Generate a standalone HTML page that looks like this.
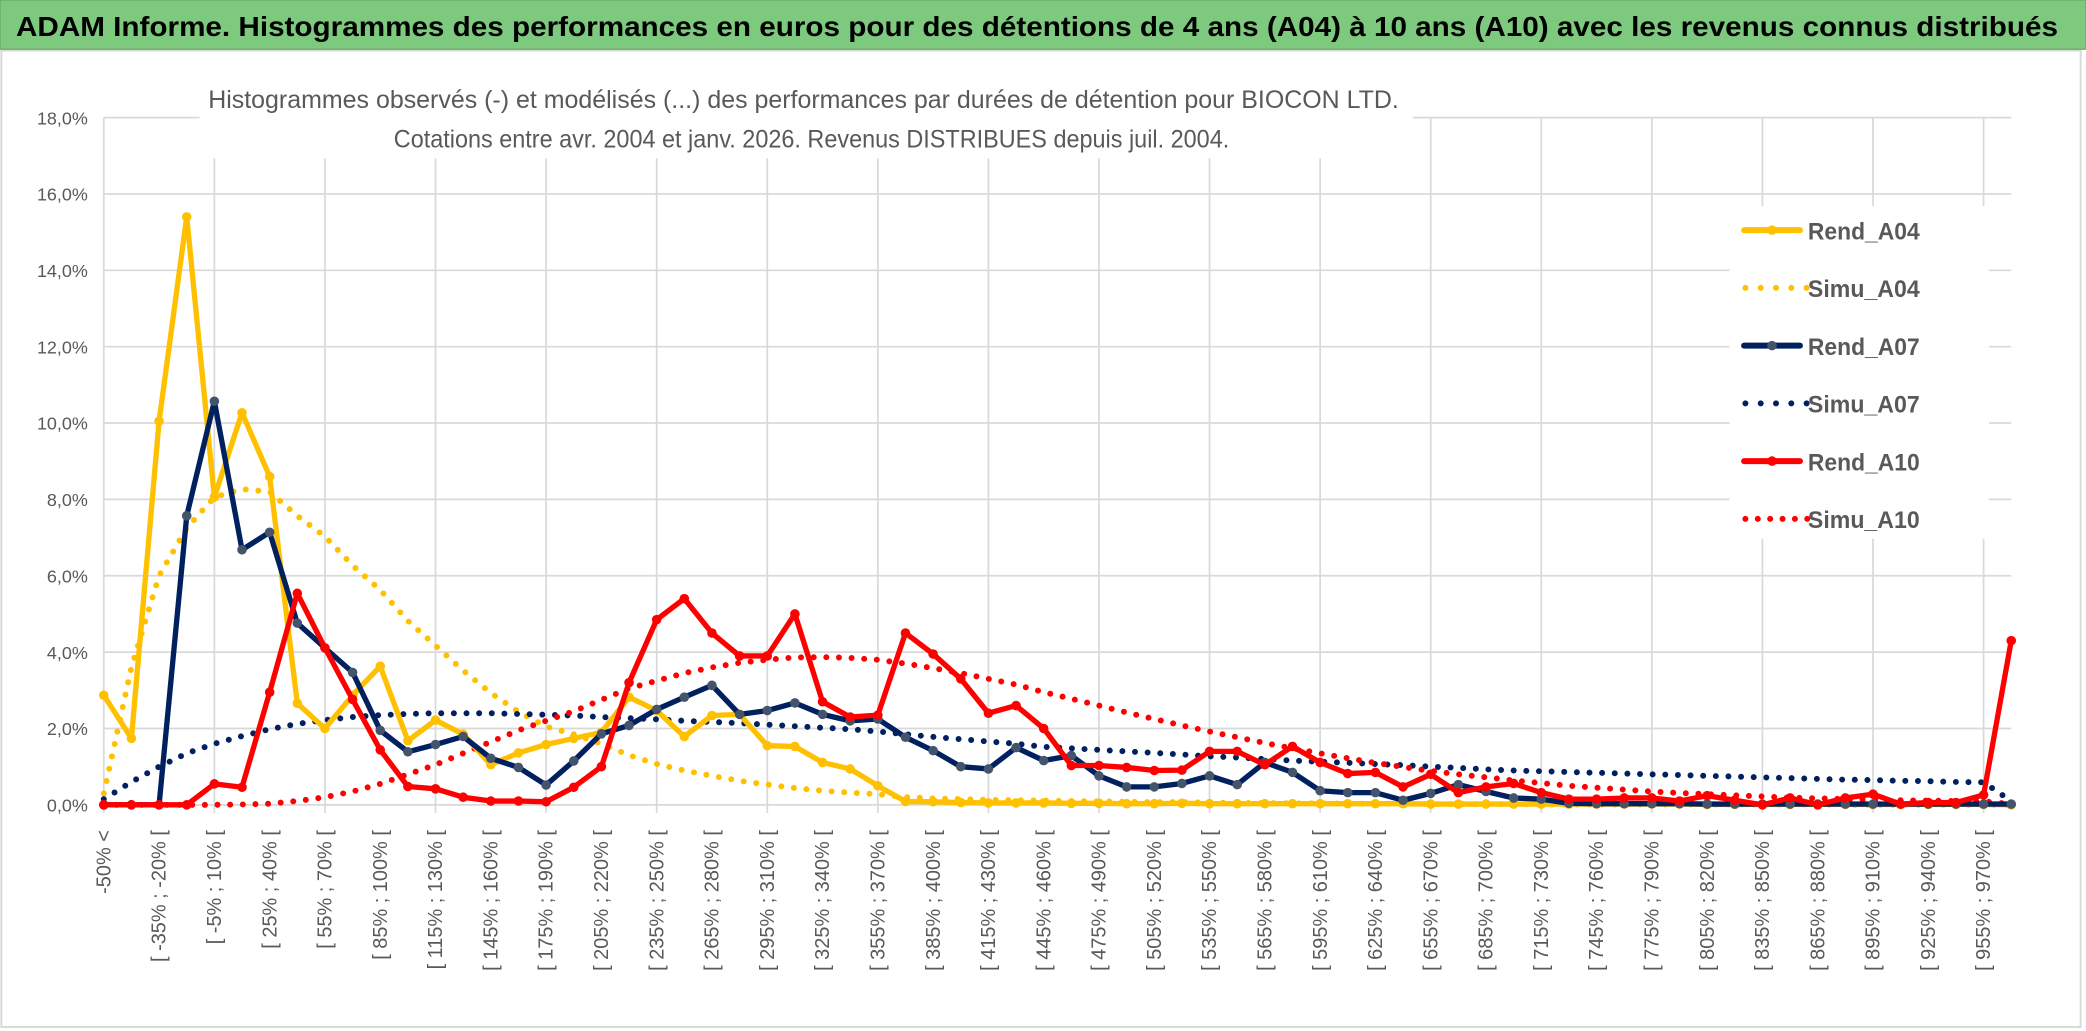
<!DOCTYPE html>
<html><head><meta charset="utf-8">
<style>
html,body{margin:0;padding:0;background:#fff;}
svg{display:block;font-family:"Liberation Sans",sans-serif;}
</style></head>
<body>
<svg id="chart" width="2086" height="1031" viewBox="0 0 1568 775" xmlns="http://www.w3.org/2000/svg">
<rect x="0" y="0" width="1568" height="775" fill="#fff"/>
<rect x="1" y="38" width="1563" height="734" fill="#fff" stroke="#d9d9d9" stroke-width="1.5"/>
<rect x="0" y="0" width="1568" height="37" fill="#7dc97d" stroke="#6aaa6a" stroke-width="1"/>
<text x="12" y="27" font-size="21" font-weight="bold" fill="#000" textLength="1535" lengthAdjust="spacingAndGlyphs">ADAM Informe. Histogrammes des performances en euros pour des détentions de 4 ans (A04) à 10 ans (A10) avec les revenus connus distribués</text>
<g id="grid"></g>
<g id="ylabels"></g>
<g id="xlabels"></g>
<rect x="150" y="55" width="912" height="64" fill="#fff"/>
<text x="604" y="81" text-anchor="middle" font-size="18.5" fill="#595959" textLength="895" lengthAdjust="spacingAndGlyphs">Histogrammes observés (-) et modélisés (...) des performances par durées de détention pour BIOCON LTD.</text>
<text x="610" y="111" text-anchor="middle" font-size="18.5" fill="#595959" textLength="628" lengthAdjust="spacingAndGlyphs">Cotations entre avr. 2004 et janv. 2026. Revenus DISTRIBUES depuis juil. 2004.</text>
<g id="series"></g>
<rect x="1300" y="155" width="195" height="250" fill="#fff"/>
<g id="legend"></g>
</svg>
<script>
const categories = (function(){ const c=["-50% <"]; for(let s=-50;s<=955;s+=15){c.push("[ "+s+"% ; "+(s+15)+"% [");} c.push("> 970%"); return c; })();
const yTicks = [0,2,4,6,8,10,12,14,16,18];
const yTickLabels = ["0,0%","2,0%","4,0%","6,0%","8,0%","10,0%","12,0%","14,0%","16,0%","18,0%"];
const rendA04 = [2.87,1.74,10.05,15.4,8.06,10.27,8.6,2.66,2.0,2.87,3.63,1.68,2.22,1.85,1.05,1.36,1.58,1.74,
1.9,2.82,2.47,1.79,2.34,2.37,1.55,1.53,1.11,0.94,0.5,0.09,
0.08,0.06,0.05,0.05,0.05,0.04,0.04,0.03,0.03,0.04,0.03,0.03,0.03,0.03,0.03,0.03,0.03,0.03,0.02,0.02,
0.02,0.02,0.02,0.02,0.02,0.02,0.02,0.02,0.01,0.01,0.01,0.01,0.01,0.01,0.01,0.01,0.01,0.01,0.01,0.0];
const rendA07 = [0,0,0,7.57,10.57,6.68,7.14,4.76,4.11,3.47,1.95,1.39,1.58,1.79,1.22,0.98,0.52,1.15,
1.86,2.08,2.5,2.82,3.13,2.37,2.47,2.67,2.37,2.2,2.25,1.77,1.42,1.0,0.94,1.5,1.16,
1.29,0.76,0.47,0.47,0.56,0.76,0.53,1.11,0.85,0.37,0.32,0.32,0.12,0.3,0.53,0.35,0.18,0.15,
0.04,0.03,0.03,0.03,0.03,0.02,0.02,0.02,0.02,0.02,0.02,0.02,0.02,0.02,0.02,0.02,0.02];
const rendA10 = [0,0,0,0,0.55,0.46,2.95,5.54,4.11,2.76,1.44,0.48,0.42,0.2,0.1,0.1,0.08,0.46,
1.0,3.2,4.85,5.4,4.5,3.9,3.9,5.0,2.7,2.3,2.35,4.5,3.95,3.3,2.4,2.6,2.0,
1.03,1.03,0.98,0.9,0.91,1.4,1.4,1.05,1.53,1.11,0.82,0.85,0.47,0.8,0.32,0.47,0.56,0.32,
0.15,0.15,0.18,0.18,0.1,0.24,0.12,0.0,0.18,0.0,0.18,0.28,0.02,0.06,0.06,0.26,4.3];
const simuA04 = [0.3,3.6,6.0,7.25,8.06,8.27,8.2,7.57,7.03,6.27,5.63,4.82,4.17,3.52,2.93,2.44,2.05,1.85,
1.6,1.3,1.07,0.9,0.76,0.63,0.53,0.44,0.37,0.32,0.28,0.2,0.17,0.15,0.13,0.12,0.11,0.1,0.09,0.08,0.07,0.07,
0.06,0.05,0.05,0.04,0.04,0.03,0.03,0.03,0.02,0.02,0.02,0.02,0.01,0.01,0.01,0.01,0.01,0.01,0.01,0.01,
0.01,0.01,0.01,0.0,0.0,0.0,0.0,0.0,0.0,0.0];
const simuA07 = [0.15,0.6,1.0,1.35,1.6,1.8,1.98,2.12,2.22,2.3,2.35,2.38,2.4,2.4,2.4,2.38,2.36,2.34,
2.3,2.27,2.24,2.2,2.17,2.14,2.1,2.06,2.02,1.98,1.92,1.85,1.78,1.72,1.66,1.6,1.52,1.48,1.44,1.4,1.36,1.32,
1.27,1.24,1.2,1.16,1.13,1.1,1.07,1.04,1.0,0.97,0.93,0.9,0.88,0.86,0.84,0.82,0.8,0.78,0.76,0.74,
0.72,0.7,0.68,0.66,0.65,0.63,0.62,0.6,0.59,0.1];
const simuA10 = [0,0,0,0,0,0.01,0.03,0.1,0.2,0.35,0.55,0.8,1.05,1.35,1.65,1.95,2.2,2.45,
2.75,3.05,3.25,3.45,3.6,3.72,3.8,3.86,3.87,3.85,3.8,3.7,3.58,3.45,3.3,3.15,2.95,2.78,2.6,2.42,2.25,2.08,
1.92,1.77,1.62,1.48,1.35,1.22,1.1,0.99,0.89,0.8,0.72,0.64,0.57,0.5,0.45,0.4,0.35,0.31,0.28,0.25,
0.22,0.19,0.17,0.15,0.13,0.12,0.11,0.1,0.09,0.02];
const seriesNames = ["Simu_A04","Simu_A07","Simu_A10","Rend_A04","Rend_A07","Rend_A10"];

const NS="http://www.w3.org/2000/svg";
const X0=78, DX=20.78, Y0=605, PY=28.7;
function xs(i){return X0+i*DX;}
function ys(v){return Y0-v*PY;}
function mk(tag,attrs,parent){const e=document.createElementNS(NS,tag);for(const k in attrs)e.setAttribute(k,attrs[k]);parent.appendChild(e);return e;}

const grid=document.getElementById('grid');
yTicks.forEach(function(t,k){
  const l=mk('line',{x1:X0,x2:xs(categories.length-1),y1:ys(t),y2:ys(t),stroke:'#d9d9d9','stroke-width':1.3},grid);
  
  
  const tx=mk('text',{x:66,y:ys(t)+5,'text-anchor':'end','font-size':13.5,fill:'#595959'},document.getElementById('ylabels'));
  tx.textContent=yTickLabels[k];
  
  
});
for(let i=0;i<categories.length-1;i+=4){
  const l=mk('line',{x1:xs(i),x2:xs(i),y1:ys(18),y2:ys(0)+6,stroke:'#d9d9d9','stroke-width':1.3},grid);
  
  
}
const xl=document.getElementById('xlabels');
categories.forEach(function(c,i){
  if(i%2!==0||i>=categories.length-1)return;
  const x=xs(i)+5, y=624;
  const t=mk('text',{x:x,y:y,'text-anchor':'end','font-size':15,fill:'#595959',transform:'rotate(-90 '+x+' '+y+')'},xl);
  t.textContent=c;
  
  
});

const sg=document.getElementById('series');
function dotted(data,color,name){
  const p=mk('polyline',{points:data.map(function(v,i){return xs(i)+','+ys(v);}).join(' '),fill:'none',stroke:color,'stroke-width':4.5,'stroke-linecap':'round','stroke-dasharray':'0 9.5'},sg);
  
  
}
function solid(data,color,mcolor,name){
  const p=mk('polyline',{points:data.map(function(v,i){return xs(i)+','+ys(v);}).join(' '),fill:'none',stroke:color,'stroke-width':4,'stroke-linejoin':'round'},sg);
  
  
  data.forEach(function(v,i){
    const c=mk('circle',{cx:xs(i),cy:ys(v),r:3.6,fill:mcolor},sg);
    
    
  });
}
dotted(simuA04,'#ffc000','simu-a04-line');
dotted(simuA07,'#002060','simu-a07-line');
dotted(simuA10,'#ff0000','simu-a10-line');
solid(rendA04,'#ffc000','#ffc000','rend-a04-line');
solid(rendA07,'#002060','#44546a','rend-a07-line');
solid(rendA10,'#ff0000','#ff0000','rend-a10-line');

const lg=document.getElementById('legend');
const legColors=['#ffc000','#ffc000','#002060','#002060','#ff0000','#ff0000'];
const legNames=["Rend_A04","Simu_A04","Rend_A07","Simu_A07","Rend_A10","Simu_A10"];
legNames.forEach(function(n,k){
  const y=173+k*43.4;
  const g=mk('g',{},lg);
  
  
  if(k%2===0){
    mk('line',{x1:1311,x2:1353,y1:y,y2:y,stroke:legColors[k],'stroke-width':4.5,'stroke-linecap':'round'},g);
    mk('circle',{cx:1332,cy:y,r:3.6,fill:k===2?'#44546a':legColors[k]},g);
  } else {
    mk('line',{x1:1312,x2:1360,y1:y,y2:y,stroke:legColors[k],'stroke-width':4.5,'stroke-linecap':'round','stroke-dasharray':'0 '+(k===5?9.3:11.5)},g);
  }
  const t=mk('text',{x:1359,y:y+7,'font-size':18,'font-weight':'bold',fill:'#595959',textLength:84,lengthAdjust:'spacingAndGlyphs'},g);
  t.textContent=n;
});
</script>
</body></html>
